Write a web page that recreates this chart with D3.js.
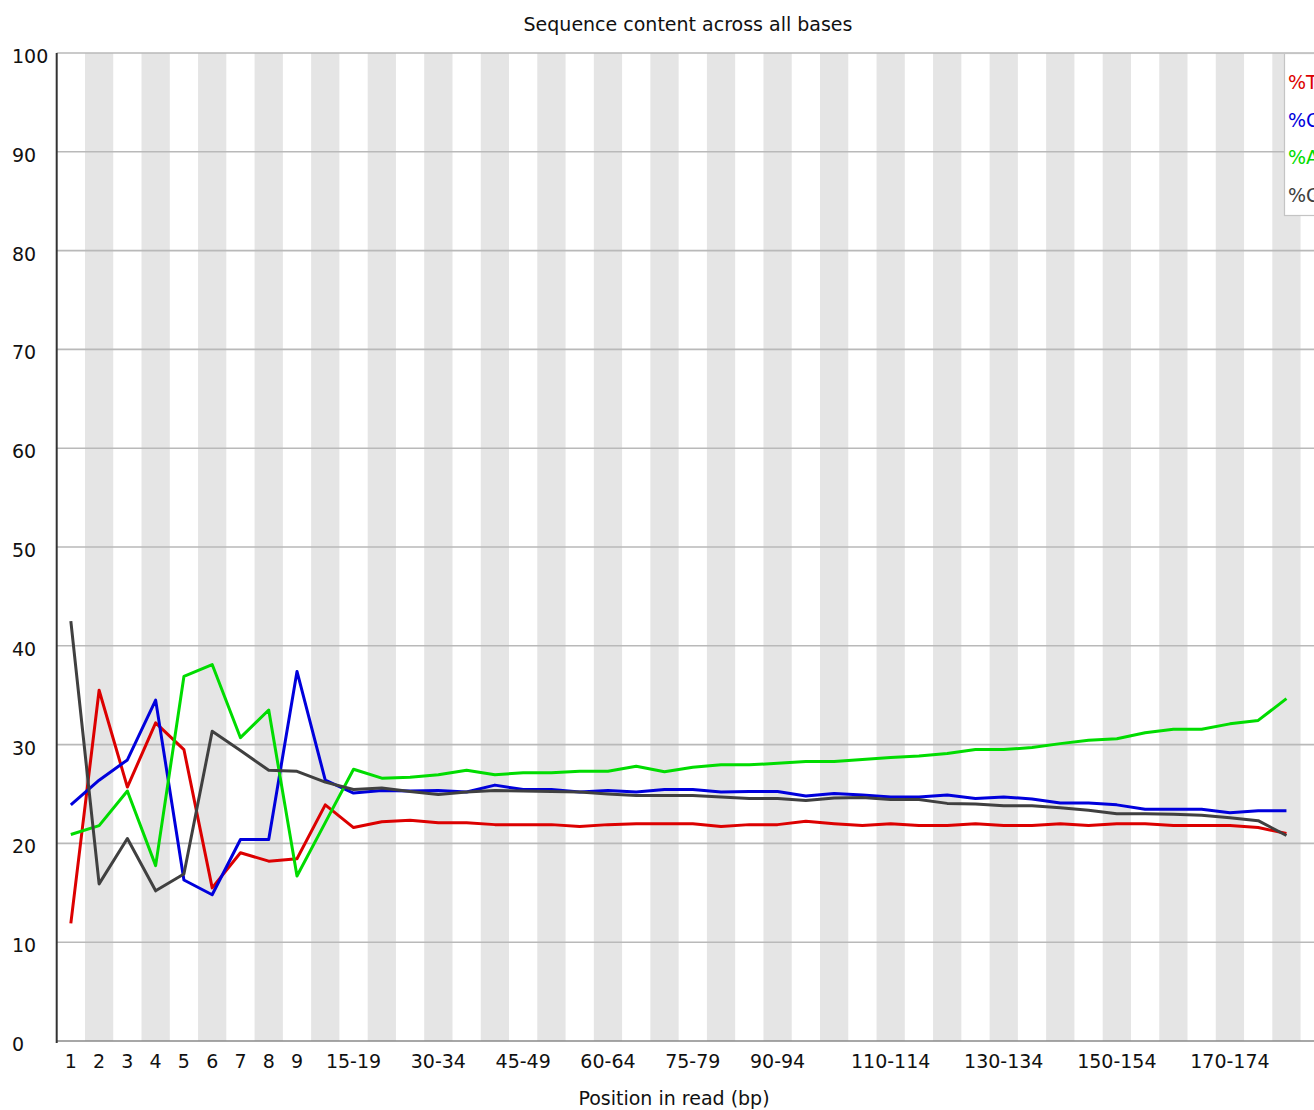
<!DOCTYPE html>
<html><head><meta charset="utf-8">
<script src="https://cdn.jsdelivr.net/npm/d3@7"></script>
<style>
body{margin:0;background:#fff}
svg{display:block}
text{font-family:"DejaVu Sans",sans-serif;font-size:19px;fill:#111}
</style>
</head><body>
<svg id="chart" width="1314" height="1110"></svg>
<script>
const categories = ["1","2","3","4","5","6","7","8","9","10-14","15-19","20-24","25-29","30-34","35-39","40-44","45-49","50-54","55-59","60-64","65-69","70-74","75-79","80-84","85-89","90-94","95-99","100-104","105-109","110-114","115-119","120-124","125-129","130-134","135-139","140-144","145-149","150-154","155-159","160-164","165-169","170-174","175-179","180-184"];
const shownTickLabels = ["1","2","3","4","5","6","7","8","9","15-19","30-34","45-49","60-64","75-79","90-94","110-114","130-134","150-154","170-174"];
const yTicks = [0,10,20,30,40,50,60,70,80,90,100];
const seriesNames = ["%T","%C","%A","%G"];
const seriesColors = ["#dc0000","#0000dc","#00dc00","#404040"];
const tValues = [11.9,35.5,25.7,32.2,29.5,15.5,19.05,18.2,18.45,23.9,21.6,22.2,22.35,22.1,22.1,21.9,21.9,21.9,21.7,21.9,22.0,22.0,22.0,21.7,21.9,21.9,22.25,22.0,21.8,22.0,21.8,21.8,22.0,21.8,21.8,22.0,21.8,22.0,22.0,21.8,21.8,21.8,21.6,21.0];
const cValues = [23.9,26.4,28.45,34.5,16.3,14.8,20.4,20.4,37.4,26.4,25.1,25.35,25.3,25.35,25.2,25.9,25.45,25.45,25.2,25.35,25.2,25.45,25.45,25.2,25.25,25.25,24.8,25.05,24.9,24.7,24.7,24.9,24.55,24.7,24.5,24.1,24.1,23.9,23.45,23.45,23.45,23.1,23.3,23.3];
const aValues = [20.9,21.8,25.3,17.75,36.9,38.1,30.7,33.5,16.7,22.1,27.5,26.6,26.7,26.95,27.4,26.95,27.15,27.15,27.3,27.3,27.8,27.25,27.7,27.95,27.95,28.1,28.3,28.3,28.5,28.7,28.85,29.1,29.5,29.5,29.7,30.1,30.45,30.6,31.2,31.55,31.55,32.1,32.45,34.65];
const gValues = [42.5,15.9,20.5,15.2,16.9,31.35,29.4,27.4,27.3,26.2,25.45,25.6,25.25,24.95,25.2,25.35,25.3,25.25,25.2,25.0,24.85,24.85,24.85,24.7,24.55,24.55,24.35,24.6,24.65,24.45,24.45,24.05,24.0,23.8,23.8,23.6,23.35,23.0,23.0,22.95,22.85,22.6,22.3,20.8];
const chartTitle = "Sequence content across all bases";
const xTitle = "Position in read (bp)";

const series = [tValues, cValues, aValues, gValues];

(function () {
const W = 1314;
const pLeft = 56.7, pTop = 53, pBottom = 1041, band = 28.27;
const pRight = W;

const svg = d3.select("#chart");
const x = d3.scaleBand().domain(categories).range([pLeft, pLeft + band * categories.length]).padding(0);
const y = d3.scaleLinear().domain([0, 100]).range([pBottom, pTop]);

svg.append("rect").attr("x", pLeft).attr("y", pTop).attr("width", pRight - pLeft).attr("height", pBottom - pTop).attr("fill", "#fff");
svg.append("g").selectAll("rect").data(categories.filter((d, i) => i % 2 === 1)).join("rect")
  .attr("x", d => x(d)).attr("y", pTop).attr("width", x.bandwidth()).attr("height", pBottom - pTop)
  .attr("fill", "#e5e5e5");

svg.append("g").selectAll("line").data(yTicks.filter(v => v > 0)).join("line")
  .attr("x1", pLeft).attr("x2", pRight).attr("y1", d => y(d)).attr("y2", d => y(d))
  .attr("stroke", "#b9b9b9").attr("stroke-width", 1.6);

const yAxis = d3.axisLeft(y).tickValues(yTicks).tickSize(0).tickFormat(d3.format("d"));
const yg = svg.append("g").attr("transform", `translate(${pLeft},0)`).call(yAxis);
yg.select(".domain").remove();
yg.selectAll("text").attr("text-anchor", "start").attr("x", 12 - pLeft).attr("dy", null).attr("y", 9.5)
  .style("font-family", '"DejaVu Sans",sans-serif').style("font-size", "19px").attr("fill", "#111");

const xAxis = d3.axisBottom(x).tickValues(shownTickLabels).tickSize(0);
const xg = svg.append("g").attr("transform", `translate(0,${pBottom})`).call(xAxis);
xg.select(".domain").remove();
xg.selectAll("text").attr("dy", null).attr("y", 27)
  .style("font-family", '"DejaVu Sans",sans-serif').style("font-size", "19px").attr("fill", "#111");

svg.append("line").attr("x1", pLeft).attr("x2", pRight).attr("y1", pBottom).attr("y2", pBottom).attr("stroke", "#8a8a8a").attr("stroke-width", 1.6);
svg.append("line").attr("x1", pLeft).attr("x2", pLeft).attr("y1", pTop).attr("y2", pBottom + 2).attr("stroke", "#333").attr("stroke-width", 2);

const line = d3.line().x((d, i) => x(categories[i]) + x.bandwidth() / 2).y(d => y(d));
svg.append("g").selectAll("path").data(series).join("path")
  .attr("d", d => line(d)).attr("fill", "none")
  .attr("stroke", (d, i) => seriesColors[i]).attr("stroke-width", 3)
  .attr("stroke-linejoin", "round");

const lg = svg.append("g");
lg.append("rect").attr("x", 1284.5).attr("y", 53.5).attr("width", 60).attr("height", 162)
  .attr("fill", "#fff").attr("stroke", "#c4c4c4").attr("stroke-width", 1.2);
lg.selectAll("text").data(seriesNames).join("text")
  .attr("x", 1288).attr("y", (d, i) => 89 + i * 37.6)
  .style("fill", (d, i) => seriesColors[i]).text(d => d);

svg.append("text").attr("x", 688).attr("y", 31).attr("text-anchor", "middle").text(chartTitle);
svg.append("text").attr("x", 674).attr("y", 1105).attr("text-anchor", "middle").text(xTitle);
})();
</script>
</body></html>
